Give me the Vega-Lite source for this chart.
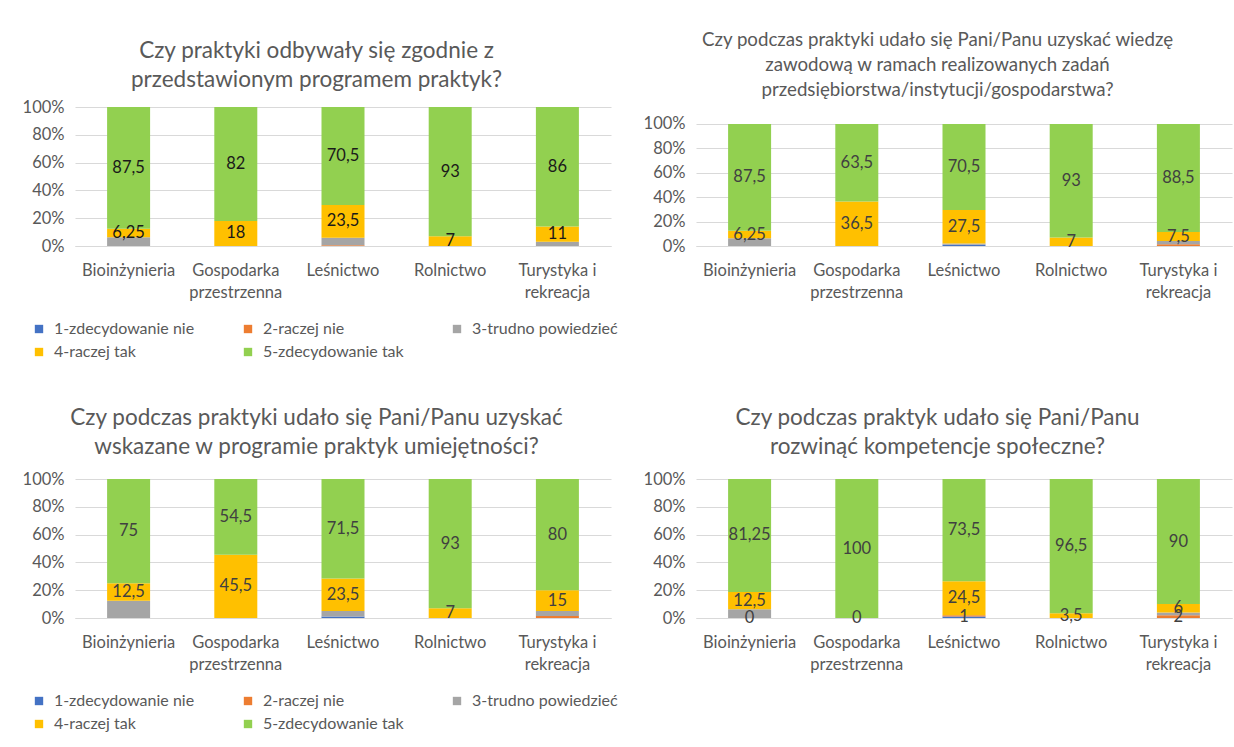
{
  "$schema": "https://vega.github.io/schema/vega-lite/v6.json",
  "padding": {"left": 22, "top": 31, "right": 5, "bottom": 5},
  "background": "white",
  "config": {
    "font": "Lato",
    "view": {"stroke": null},
    "title": {"font": "Lato", "fontWeight": "normal", "color": "#595959", "anchor": "middle", "frame": "bounds"},
    "axis": {"labelFont": "Lato", "labelColor": "#595959", "labelFontSize": 16.5, "ticks": false, "domain": false, "gridColor": "#d9d9d9", "title": null},
    "legend": {"labelFont": "Lato", "labelColor": "#595959", "labelFontSize": 16, "symbolType": "square", "symbolSize": 70, "symbolStrokeWidth": 0, "title": null, "rowPadding": 7, "labelOffset": 7}
  },
  "datasets": {
    "d": [
      {"q": 1, "k": "Bioinżynieria", "c": "3-trudno powiedzieć", "v": 6.25},
      {"q": 1, "k": "Bioinżynieria", "c": "4-raczej tak", "v": 6.25, "lbl": "6,25"},
      {"q": 1, "k": "Bioinżynieria", "c": "5-zdecydowanie tak", "v": 87.5, "lbl": "87,5"},
      {"q": 1, "k": "Gospodarka przestrzenna", "c": "4-raczej tak", "v": 18, "lbl": "18"},
      {"q": 1, "k": "Gospodarka przestrzenna", "c": "5-zdecydowanie tak", "v": 82, "lbl": "82"},
      {"q": 1, "k": "Leśnictwo", "c": "2-raczej nie", "v": 0.5},
      {"q": 1, "k": "Leśnictwo", "c": "3-trudno powiedzieć", "v": 5.5},
      {"q": 1, "k": "Leśnictwo", "c": "4-raczej tak", "v": 23.5, "lbl": "23,5"},
      {"q": 1, "k": "Leśnictwo", "c": "5-zdecydowanie tak", "v": 70.5, "lbl": "70,5"},
      {"q": 1, "k": "Rolnictwo", "c": "4-raczej tak", "v": 7, "lbl": "7"},
      {"q": 1, "k": "Rolnictwo", "c": "5-zdecydowanie tak", "v": 93, "lbl": "93"},
      {"q": 1, "k": "Turystyka i rekreacja", "c": "3-trudno powiedzieć", "v": 3},
      {"q": 1, "k": "Turystyka i rekreacja", "c": "4-raczej tak", "v": 11, "lbl": "11"},
      {"q": 1, "k": "Turystyka i rekreacja", "c": "5-zdecydowanie tak", "v": 86, "lbl": "86"},

      {"q": 2, "k": "Bioinżynieria", "c": "3-trudno powiedzieć", "v": 6.25},
      {"q": 2, "k": "Bioinżynieria", "c": "4-raczej tak", "v": 6.25, "lbl": "6,25"},
      {"q": 2, "k": "Bioinżynieria", "c": "5-zdecydowanie tak", "v": 87.5, "lbl": "87,5"},
      {"q": 2, "k": "Gospodarka przestrzenna", "c": "4-raczej tak", "v": 36.5, "lbl": "36,5"},
      {"q": 2, "k": "Gospodarka przestrzenna", "c": "5-zdecydowanie tak", "v": 63.5, "lbl": "63,5"},
      {"q": 2, "k": "Leśnictwo", "c": "1-zdecydowanie nie", "v": 1},
      {"q": 2, "k": "Leśnictwo", "c": "3-trudno powiedzieć", "v": 1},
      {"q": 2, "k": "Leśnictwo", "c": "4-raczej tak", "v": 27.5, "lbl": "27,5"},
      {"q": 2, "k": "Leśnictwo", "c": "5-zdecydowanie tak", "v": 70.5, "lbl": "70,5"},
      {"q": 2, "k": "Rolnictwo", "c": "4-raczej tak", "v": 7, "lbl": "7"},
      {"q": 2, "k": "Rolnictwo", "c": "5-zdecydowanie tak", "v": 93, "lbl": "93"},
      {"q": 2, "k": "Turystyka i rekreacja", "c": "2-raczej nie", "v": 1.5},
      {"q": 2, "k": "Turystyka i rekreacja", "c": "3-trudno powiedzieć", "v": 2.5},
      {"q": 2, "k": "Turystyka i rekreacja", "c": "4-raczej tak", "v": 7.5, "lbl": "7,5"},
      {"q": 2, "k": "Turystyka i rekreacja", "c": "5-zdecydowanie tak", "v": 88.5, "lbl": "88,5"},

      {"q": 3, "k": "Bioinżynieria", "c": "3-trudno powiedzieć", "v": 12.5},
      {"q": 3, "k": "Bioinżynieria", "c": "4-raczej tak", "v": 12.5, "lbl": "12,5"},
      {"q": 3, "k": "Bioinżynieria", "c": "5-zdecydowanie tak", "v": 75, "lbl": "75"},
      {"q": 3, "k": "Gospodarka przestrzenna", "c": "4-raczej tak", "v": 45.5, "lbl": "45,5"},
      {"q": 3, "k": "Gospodarka przestrzenna", "c": "5-zdecydowanie tak", "v": 54.5, "lbl": "54,5"},
      {"q": 3, "k": "Leśnictwo", "c": "1-zdecydowanie nie", "v": 1},
      {"q": 3, "k": "Leśnictwo", "c": "3-trudno powiedzieć", "v": 4},
      {"q": 3, "k": "Leśnictwo", "c": "4-raczej tak", "v": 23.5, "lbl": "23,5"},
      {"q": 3, "k": "Leśnictwo", "c": "5-zdecydowanie tak", "v": 71.5, "lbl": "71,5"},
      {"q": 3, "k": "Rolnictwo", "c": "4-raczej tak", "v": 7, "lbl": "7"},
      {"q": 3, "k": "Rolnictwo", "c": "5-zdecydowanie tak", "v": 93, "lbl": "93"},
      {"q": 3, "k": "Turystyka i rekreacja", "c": "2-raczej nie", "v": 1.5},
      {"q": 3, "k": "Turystyka i rekreacja", "c": "3-trudno powiedzieć", "v": 3.5},
      {"q": 3, "k": "Turystyka i rekreacja", "c": "4-raczej tak", "v": 15, "lbl": "15"},
      {"q": 3, "k": "Turystyka i rekreacja", "c": "5-zdecydowanie tak", "v": 80, "lbl": "80"},

      {"q": 4, "k": "Bioinżynieria", "c": "1-zdecydowanie nie", "v": 0, "lbl": "0"},
      {"q": 4, "k": "Bioinżynieria", "c": "3-trudno powiedzieć", "v": 6.25},
      {"q": 4, "k": "Bioinżynieria", "c": "4-raczej tak", "v": 12.5, "lbl": "12,5"},
      {"q": 4, "k": "Bioinżynieria", "c": "5-zdecydowanie tak", "v": 81.25, "lbl": "81,25"},
      {"q": 4, "k": "Gospodarka przestrzenna", "c": "1-zdecydowanie nie", "v": 0, "lbl": "0"},
      {"q": 4, "k": "Gospodarka przestrzenna", "c": "5-zdecydowanie tak", "v": 100, "lbl": "100"},
      {"q": 4, "k": "Leśnictwo", "c": "1-zdecydowanie nie", "v": 1, "lbl": "1"},
      {"q": 4, "k": "Leśnictwo", "c": "2-raczej nie", "v": 1},
      {"q": 4, "k": "Leśnictwo", "c": "4-raczej tak", "v": 24.5, "lbl": "24,5"},
      {"q": 4, "k": "Leśnictwo", "c": "5-zdecydowanie tak", "v": 73.5, "lbl": "73,5"},
      {"q": 4, "k": "Rolnictwo", "c": "4-raczej tak", "v": 3.5, "lbl": "3,5"},
      {"q": 4, "k": "Rolnictwo", "c": "5-zdecydowanie tak", "v": 96.5, "lbl": "96,5"},
      {"q": 4, "k": "Turystyka i rekreacja", "c": "2-raczej nie", "v": 2, "lbl": "2"},
      {"q": 4, "k": "Turystyka i rekreacja", "c": "3-trudno powiedzieć", "v": 2},
      {"q": 4, "k": "Turystyka i rekreacja", "c": "4-raczej tak", "v": 6, "lbl": "6"},
      {"q": 4, "k": "Turystyka i rekreacja", "c": "5-zdecydowanie tak", "v": 90, "lbl": "90"}
    ]
  },
  "vconcat": [
    {
      "hconcat": [
        {
          "title": {"text": ["Czy praktyki odbywały się zgodnie z", "przedstawionym programem praktyk?"], "fontSize": 22.5, "lineHeight": 29, "offset": 8},
          "width": 536, "height": 139,
          "data": {"name": "d"},
          "transform": [
            {"filter": "datum.q == 1"},
            {"stack": "v", "groupby": ["k"], "sort": [{"field": "c"}], "as": ["y0", "y1"]},
            {"calculate": "(datum.y0 + datum.y1) / 2", "as": "ym"}
          ],
          "encoding": {
            "x": {"field": "k", "type": "nominal", "sort": ["Bioinżynieria", "Gospodarka przestrzenna", "Leśnictwo", "Rolnictwo", "Turystyka i rekreacja"], "scale": {"paddingInner": 0.6, "paddingOuter": 0.3},
              "axis": {"labelAngle": 0, "labelPadding": 16, "labelLineHeight": 22, "labelExpr": "datum.value == 'Gospodarka przestrzenna' ? ['Gospodarka', 'przestrzenna'] : datum.value == 'Turystyka i rekreacja' ? ['Turystyka i', 'rekreacja'] : datum.value", "domain": true, "domainColor": "#d9d9d9"}}
          },
          "layer": [
            {
              "mark": {"type": "bar", "width": 43},
              "encoding": {
                "y": {"field": "y0", "type": "quantitative", "scale": {"domain": [0, 100]}, "axis": {"values": [0, 20, 40, 60, 80, 100], "labelExpr": "datum.value + '%'", "labelPadding": 11}},
                "y2": {"field": "y1"},
                "color": {"field": "c", "type": "nominal", "scale": {"domain": ["1-zdecydowanie nie", "2-raczej nie", "3-trudno powiedzieć", "4-raczej tak", "5-zdecydowanie tak"], "range": ["#4472C4", "#ED7D31", "#A5A5A5", "#FFC000", "#92D050"]},
                  "legend": {"orient": "none", "legendX": -44, "legendY": 214, "direction": "horizontal", "columns": 3, "gridAlign": "each", "columnPadding": 45}}
              }
            },
            {
              "transform": [{"filter": "datum.lbl != null"}],
              "mark": {"type": "text", "fontSize": 16.5, "color": "#1a1a1a", "font": "Lato"},
              "encoding": {"y": {"field": "ym", "type": "quantitative", "scale": {"domain": [0, 100]}, "axis": {"values": [0, 20, 40, 60, 80, 100], "labelExpr": "datum.value + '%'", "labelPadding": 11}}, "text": {"field": "lbl"}}
            }
          ]
        },
        {
          "title": {"text": ["Czy podczas praktyki udało się Pani/Panu uzyskać wiedzę", "zawodową w ramach realizowanych zadań", "przedsiębiorstwa/instytucji/gospodarstwa?"], "fontSize": 18.7, "lineHeight": 25, "offset": 7},
          "width": 536, "height": 139,
          "data": {"name": "d"},
          "transform": [
            {"filter": "datum.q == 2"},
            {"stack": "v", "groupby": ["k"], "sort": [{"field": "c"}], "as": ["y0", "y1"]},
            {"calculate": "(datum.y0 + datum.y1) / 2", "as": "ym"}
          ],
          "encoding": {
            "x": {"field": "k", "type": "nominal", "sort": ["Bioinżynieria", "Gospodarka przestrzenna", "Leśnictwo", "Rolnictwo", "Turystyka i rekreacja"], "scale": {"paddingInner": 0.6, "paddingOuter": 0.3},
              "axis": {"labelAngle": 0, "labelPadding": 16, "labelLineHeight": 22, "labelExpr": "datum.value == 'Gospodarka przestrzenna' ? ['Gospodarka', 'przestrzenna'] : datum.value == 'Turystyka i rekreacja' ? ['Turystyka i', 'rekreacja'] : datum.value", "domain": true, "domainColor": "#d9d9d9"}}
          },
          "layer": [
            {
              "mark": {"type": "bar", "width": 43},
              "encoding": {
                "y": {"field": "y0", "type": "quantitative", "scale": {"domain": [0, 113.93]}, "axis": {"values": [0, 20, 40, 60, 80, 100], "labelExpr": "datum.value + '%'", "labelPadding": 11}},
                "y2": {"field": "y1"},
                "color": {"field": "c", "type": "nominal", "scale": {"domain": ["1-zdecydowanie nie", "2-raczej nie", "3-trudno powiedzieć", "4-raczej tak", "5-zdecydowanie tak"], "range": ["#4472C4", "#ED7D31", "#A5A5A5", "#FFC000", "#92D050"]},
                  "legend": {"orient": "none", "legendX": -44, "legendY": 214, "direction": "horizontal", "columns": 3, "gridAlign": "each", "columnPadding": 45}}
              }
            },
            {
              "transform": [{"filter": "datum.lbl != null"}],
              "mark": {"type": "text", "fontSize": 16.5, "color": "#404040", "font": "Lato"},
              "encoding": {"y": {"field": "ym", "type": "quantitative", "scale": {"domain": [0, 113.93]}, "axis": {"values": [0, 20, 40, 60, 80, 100], "labelExpr": "datum.value + '%'", "labelPadding": 11}}, "text": {"field": "lbl"}}
            }
          ]
        }
      ],
      "spacing": 32
    },
    {
      "hconcat": [
        {
          "title": {"text": ["Czy podczas praktyki udało się Pani/Panu uzyskać", "wskazane w programie praktyk umiejętności?"], "fontSize": 22.5, "lineHeight": 29, "offset": 13},
          "width": 536, "height": 139,
          "data": {"name": "d"},
          "transform": [
            {"filter": "datum.q == 3"},
            {"stack": "v", "groupby": ["k"], "sort": [{"field": "c"}], "as": ["y0", "y1"]},
            {"calculate": "(datum.y0 + datum.y1) / 2", "as": "ym"}
          ],
          "encoding": {
            "x": {"field": "k", "type": "nominal", "sort": ["Bioinżynieria", "Gospodarka przestrzenna", "Leśnictwo", "Rolnictwo", "Turystyka i rekreacja"], "scale": {"paddingInner": 0.6, "paddingOuter": 0.3},
              "axis": {"labelAngle": 0, "labelPadding": 16, "labelLineHeight": 22, "labelExpr": "datum.value == 'Gospodarka przestrzenna' ? ['Gospodarka', 'przestrzenna'] : datum.value == 'Turystyka i rekreacja' ? ['Turystyka i', 'rekreacja'] : datum.value", "domain": true, "domainColor": "#d9d9d9"}}
          },
          "layer": [
            {
              "mark": {"type": "bar", "width": 43},
              "encoding": {
                "y": {"field": "y0", "type": "quantitative", "scale": {"domain": [0, 100]}, "axis": {"values": [0, 20, 40, 60, 80, 100], "labelExpr": "datum.value + '%'", "labelPadding": 11}},
                "y2": {"field": "y1"},
                "color": {"field": "c", "type": "nominal", "scale": {"domain": ["1-zdecydowanie nie", "2-raczej nie", "3-trudno powiedzieć", "4-raczej tak", "5-zdecydowanie tak"], "range": ["#4472C4", "#ED7D31", "#A5A5A5", "#FFC000", "#92D050"]},
                  "legend": {"orient": "none", "legendX": -44, "legendY": 214, "direction": "horizontal", "columns": 3, "gridAlign": "each", "columnPadding": 45}}
              }
            },
            {
              "transform": [{"filter": "datum.lbl != null"}],
              "mark": {"type": "text", "fontSize": 16.5, "color": "#404040", "font": "Lato"},
              "encoding": {"y": {"field": "ym", "type": "quantitative", "scale": {"domain": [0, 100]}, "axis": {"values": [0, 20, 40, 60, 80, 100], "labelExpr": "datum.value + '%'", "labelPadding": 11}}, "text": {"field": "lbl"}}
            }
          ]
        },
        {
          "title": {"text": ["Czy podczas praktyk udało się Pani/Panu", "rozwinąć kompetencje społeczne?"], "fontSize": 22.5, "lineHeight": 29, "offset": 13},
          "width": 536, "height": 139,
          "data": {"name": "d"},
          "transform": [
            {"filter": "datum.q == 4"},
            {"stack": "v", "groupby": ["k"], "sort": [{"field": "c"}], "as": ["y0", "y1"]},
            {"calculate": "(datum.y0 + datum.y1) / 2", "as": "ym"}
          ],
          "encoding": {
            "x": {"field": "k", "type": "nominal", "sort": ["Bioinżynieria", "Gospodarka przestrzenna", "Leśnictwo", "Rolnictwo", "Turystyka i rekreacja"], "scale": {"paddingInner": 0.6, "paddingOuter": 0.3},
              "axis": {"labelAngle": 0, "labelPadding": 16, "labelLineHeight": 22, "labelExpr": "datum.value == 'Gospodarka przestrzenna' ? ['Gospodarka', 'przestrzenna'] : datum.value == 'Turystyka i rekreacja' ? ['Turystyka i', 'rekreacja'] : datum.value", "domain": true, "domainColor": "#d9d9d9"}}
          },
          "layer": [
            {
              "mark": {"type": "bar", "width": 43},
              "encoding": {
                "y": {"field": "y0", "type": "quantitative", "scale": {"domain": [0, 100]}, "axis": {"values": [0, 20, 40, 60, 80, 100], "labelExpr": "datum.value + '%'", "labelPadding": 11}},
                "y2": {"field": "y1"},
                "color": {"field": "c", "type": "nominal", "scale": {"domain": ["1-zdecydowanie nie", "2-raczej nie", "3-trudno powiedzieć", "4-raczej tak", "5-zdecydowanie tak"], "range": ["#4472C4", "#ED7D31", "#A5A5A5", "#FFC000", "#92D050"]},
                  "legend": {"orient": "none", "legendX": -44, "legendY": 214, "direction": "horizontal", "columns": 3, "gridAlign": "each", "columnPadding": 45}}
              }
            },
            {
              "transform": [{"filter": "datum.lbl != null"}],
              "mark": {"type": "text", "fontSize": 16.5, "color": "#404040", "font": "Lato"},
              "encoding": {"y": {"field": "ym", "type": "quantitative", "scale": {"domain": [0, 100]}, "axis": {"values": [0, 20, 40, 60, 80, 100], "labelExpr": "datum.value + '%'", "labelPadding": 11}}, "text": {"field": "lbl"}}
            }
          ]
        }
      ],
      "spacing": 32
    }
  ],
  "spacing": 46,
  "resolve": {"scale": {"color": "independent", "x": "independent", "y": "independent"}, "legend": {"color": "independent"}}
}
